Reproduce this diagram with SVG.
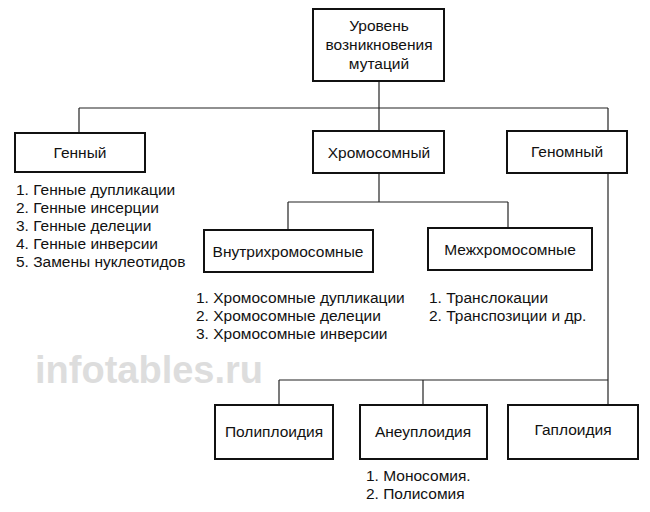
<svg xmlns="http://www.w3.org/2000/svg" width="650" height="512" viewBox="0 0 650 512">
<style>
rect{fill:#fff;stroke:#111;stroke-width:2}
line{stroke:#222;stroke-width:1.2}
text{font-family:"Liberation Sans",Arial,sans-serif;font-size:15.5px;fill:#111}
.c{text-anchor:middle}
.w{font-size:38px;font-weight:bold;fill:#ddd}
</style>
<rect width="650" height="512" style="fill:#fff;stroke:none"/>
<text class="w" x="35" y="383">infotables.ru</text>
<g id="connectors">
<line x1="379" y1="81" x2="379" y2="131"/>
<line x1="79" y1="108" x2="608" y2="108"/>
<line x1="79" y1="108" x2="79" y2="133"/>
<line x1="608" y1="108" x2="608" y2="131"/>
<line x1="379" y1="173" x2="379" y2="202"/>
<line x1="288" y1="202" x2="508" y2="202"/>
<line x1="288" y1="202" x2="288" y2="230"/>
<line x1="508" y1="202" x2="508" y2="228"/>
<line x1="608" y1="173" x2="608" y2="405"/>
<line x1="279" y1="380" x2="608" y2="380"/>
<line x1="279" y1="380" x2="279" y2="405"/>
<line x1="423" y1="380" x2="423" y2="405"/>
</g>
<g id="root"><rect x="313" y="9" width="131" height="72"/>
<text class="c" x="379" y="31">Уровень</text><text class="c" x="379" y="50">возникновения</text><text class="c" x="379" y="69">мутаций</text></g>
<g id="gen"><rect x="15" y="133" width="130" height="39"/><text class="c" x="80" y="158">Генный</text></g>
<g id="chrom"><rect x="313" y="131" width="131" height="42"/><text class="c" x="379" y="158">Хромосомный</text></g>
<g id="genom"><rect x="507" y="131" width="120" height="42"/><text class="c" x="567" y="157">Геномный</text></g>
<g id="gen-list"><text x="16" y="195">1. Генные дупликации</text><text x="16" y="213">2. Генные инсерции</text><text x="16" y="231">3. Генные делеции</text><text x="16" y="249">4. Генные инверсии</text><text x="16" y="267">5. Замены нуклеотидов</text></g>
<g id="intra"><rect x="204" y="230" width="169" height="42"/><text class="c" x="288" y="257">Внутрихромосомные</text></g>
<g id="inter"><rect x="428" y="228" width="164" height="42"/><text class="c" x="510" y="255">Межхромосомные</text></g>
<g id="intra-list"><text x="196" y="303">1. Хромосомные дупликации</text><text x="196" y="321">2. Хромосомные делеции</text><text x="196" y="339">3. Хромосомные инверсии</text></g>
<g id="inter-list"><text x="429" y="303">1. Транслокации</text><text x="429" y="321">2. Транспозиции и др.</text></g>
<g id="poly"><rect x="215" y="405" width="118" height="54"/><text class="c" x="274" y="437">Полиплоидия</text></g>
<g id="aneu"><rect x="360" y="405" width="127" height="54"/><text class="c" x="423" y="437">Анеуплоидия</text></g>
<g id="haplo"><rect x="508" y="405" width="130" height="54"/><text class="c" x="573" y="435">Гаплоидия</text></g>
<g id="aneu-list"><text x="366" y="481">1. Моносомия.</text><text x="366" y="499">2. Полисомия</text></g>
</svg>
